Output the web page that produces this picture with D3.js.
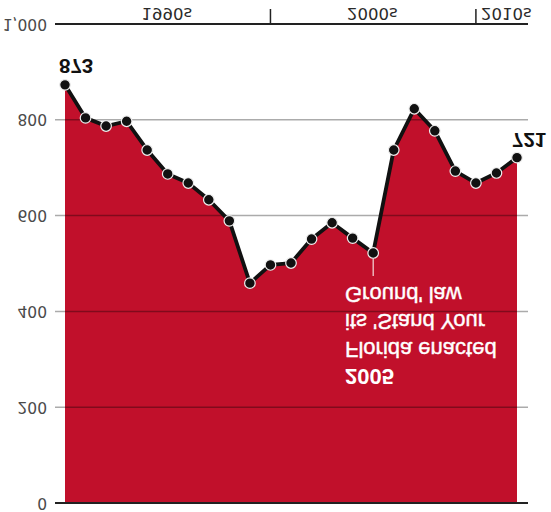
<!DOCTYPE html>
<html>
<head>
<meta charset="utf-8">
<script src="https://cdn.jsdelivr.net/npm/d3@7"></script>
<style>
  body { margin: 0; background: #fff; }
  svg { display: block; }
</style>
</head>
<body>
<div id="chart"></div>
<script>
// Datos
const years = [1990, 1991, 1992, 1993, 1994, 1995, 1996, 1997, 1998, 1999, 2000, 2001,
               2002, 2003, 2004, 2005, 2006, 2007, 2008, 2009, 2010, 2011, 2012];
const deaths = [873, 804, 787, 797, 737, 687, 668, 633, 589, 459, 497, 501,
                551, 585, 553, 522, 737, 823, 777, 693, 668, 689, 721];
const yTicks = [0, 200, 400, 600, 800, 1000];
const decades = [{label: "1990s", from: 1990, to: 2000},
                 {label: "2000s", from: 2000, to: 2010},
                 {label: "2010s", from: 2010, to: 2012}];
const noteLines = ["Ground' law", "its 'Stand Your", "Florida enacted", "2005"];
const noteYear = 2005;

const width = 551, height = 512;
const red = "#c1102b";

const svg = d3.select("#chart")
    .append("svg")
    .attr("width", width)
    .attr("height", height);

const x = d3.scaleLinear().domain([1990, 2012]).range([65, 517]);
const y = d3.scaleLinear().domain([0, 1000]).range([503, 24]);
const gridLeft = 55, gridRight = 528;

const datos = years.map((d, i) => ({year: d, value: deaths[i]}));

// texto invertido verticalmente, como en la imagen
function flip(sel, tx, ty) {
    sel.attr("transform", "translate(" + tx + "," + ty + ") scale(1,-1)");
    return sel;
}

// Area
svg.append("path")
    .datum(datos)
    .attr("fill", red)
    .attr("d", d3.area()
        .x(d => x(d.year))
        .y0(y(0))
        .y1(d => y(d.value)));

// Lineas de la rejilla
svg.append("g")
    .selectAll("line")
    .data(yTicks.filter(d => d > 0 && d < 1000))
    .enter()
    .append("line")
    .attr("x1", gridLeft)
    .attr("x2", gridRight)
    .attr("y1", d => y(d))
    .attr("y2", d => y(d))
    .attr("stroke", "#000")
    .attr("stroke-opacity", 0.33)
    .attr("stroke-width", 1.5);

// Ejes 0 y 1000
svg.append("g")
    .selectAll("line")
    .data([0, 1000])
    .enter()
    .append("line")
    .attr("x1", gridLeft)
    .attr("x2", gridRight)
    .attr("y1", d => y(d))
    .attr("y2", d => y(d))
    .attr("stroke", "#222")
    .attr("stroke-width", 2);

// Etiquetas eje Y
svg.append("g")
    .selectAll("text")
    .data(yTicks)
    .enter()
    .append("text")
    .attr("text-anchor", "end")
    .style("font-family", "DejaVu Sans")
    .style("font-size", "15.5px")
    .style("fill", "#4a4a4a")
    .text(d => d3.format(",")(d))
    .each(function(d) { flip(d3.select(this), 47, y(d) - 5.5); });

// Decadas
svg.append("g")
    .selectAll("line")
    .data([2000, 2010])
    .enter()
    .append("line")
    .attr("x1", d => x(d))
    .attr("x2", d => x(d))
    .attr("y1", y(1000))
    .attr("y2", 9)
    .attr("stroke", "#222")
    .attr("stroke-width", 1.5);

svg.append("g")
    .selectAll("text")
    .data(decades)
    .enter()
    .append("text")
    .attr("text-anchor", d => d.to - d.from < 5 ? "start" : "middle")
    .style("font-family", "DejaVu Sans")
    .style("font-size", "16.5px")
    .style("fill", "#2a2a2a")
    .text(d => d.label)
    .each(function(d) {
        let tx = d.to - d.from < 5 ? x(d.from) + 5 : (x(d.from) + x(d.to)) / 2 - 1;
        flip(d3.select(this), tx, 7.5);
    });

// Nota 2005
svg.append("line")
    .attr("x1", x(noteYear))
    .attr("x2", x(noteYear))
    .attr("y1", y(deaths[years.indexOf(noteYear)]))
    .attr("y2", 276)
    .attr("stroke", "#f6dcdc")
    .attr("stroke-width", 1.2);

svg.append("g")
    .selectAll("text")
    .data(noteLines)
    .enter()
    .append("text")
    .style("font-family", "Liberation Sans, Arial, sans-serif")
    .style("font-size", "22px")
    .style("font-weight", (d, i) => i === noteLines.length - 1 ? "bold" : "normal")
    .style("fill", "#fff")
    .style("stroke", "#fff")
    .style("stroke-width", (d, i) => i === noteLines.length - 1 ? 0 : 0.4)
    .text(d => d)
    .each(function(d, i) { flip(d3.select(this), 345, 287 + i * 27.3); });

// Linea y puntos
svg.append("path")
    .datum(datos)
    .attr("fill", "none")
    .attr("stroke", "#111")
    .attr("stroke-width", 3.8)
    .attr("stroke-linejoin", "round")
    .attr("d", d3.line()
        .x(d => x(d.year))
        .y(d => y(d.value)));

svg.append("g")
    .selectAll("circle")
    .data(datos)
    .enter()
    .append("circle")
    .attr("cx", d => x(d.year))
    .attr("cy", d => y(d.value))
    .attr("r", 5.3)
    .attr("fill", "#111")
    .attr("stroke", "#eee")
    .attr("stroke-width", 1.2);

// Valores inicial y final
const extremos = [datos[0], datos[datos.length - 1]];
svg.append("g")
    .selectAll("text")
    .data(extremos)
    .enter()
    .append("text")
    .style("font-family", "Liberation Sans, Arial, sans-serif")
    .style("font-size", "20.5px")
    .style("font-weight", "bold")
    .style("fill", "#111")
    .text(d => d.value)
    .each(function(d, i) {
        if (i === 0) flip(d3.select(this), x(d.year) - 6, y(d.value) - 26);
        else flip(d3.select(this), x(d.year) - 5, y(d.value) - 25);
    });
</script>
</body>
</html>
